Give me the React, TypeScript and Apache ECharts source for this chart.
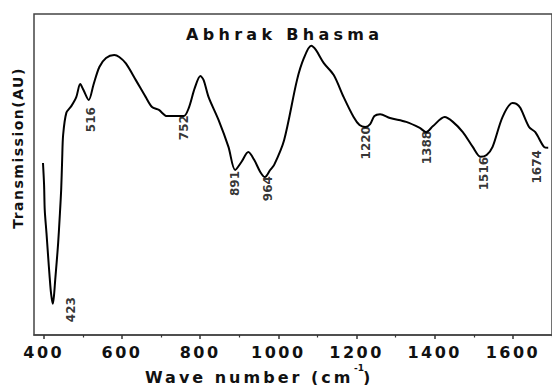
import React, { useEffect, useRef } from "react";
import * as echarts from "echarts";

const waveNumbers = [
  398, 400.8, 402.5, 406.9, 410.9, 415.2, 418.5, 423, 426, 429.2, 433, 436.8, 440.6, 444.5, 447, 449.5,
  457.7, 470.4, 483.1, 493.2, 501.6, 515.1, 527, 542.2, 559.3, 580.3, 593, 610, 635.5, 660.9,
  676.9, 694.6, 714.9, 735.3, 758.1, 770.8, 786.1, 800.6, 808.9, 821.6, 847, 872.4, 889.5,
  905.5, 923.2, 938.5, 953.7, 965.7, 979.1, 989.3, 1014.7, 1047.7, 1065.5, 1084, 1096, 1116.3,
  1141.7, 1167.1, 1192.5, 1207.7, 1222.2, 1234.9, 1245.8, 1260.3, 1285.7, 1327.1, 1361.9,
  1377.9, 1395.7, 1425.4, 1446.5, 1471.9, 1497.3, 1517.6, 1532.8, 1548, 1573.4, 1598.8, 1609,
  1619.2, 1641.3, 1657.3, 1679.4, 1690.3,
];
const transmission = [
  53.6, 46.7, 38.9, 31.8, 24.9, 17.8, 13.1, 9.7, 12.1, 17.1, 22.7, 28.7, 36.4, 45.2, 54.5, 62.3,
  69.2, 71.3, 74.1, 78.2, 76.3, 73.2, 77.9, 83.5, 86.3, 87.2, 86.6, 84.6, 79.4, 74.1,
  71.0, 70.1, 68.2, 68.2, 68.2, 70.7, 76.9, 80.7, 79.4, 74.1, 67.0, 58.6, 51.4,
  53.9, 57.0, 54.5, 50.8, 49.2, 51.4, 53.0, 60.7, 79.4, 86.3, 90.1, 88.8, 84.7,
  81.0, 74.1, 67.9, 65.4, 64.8, 65.7, 68.2, 68.8, 67.6, 66.4, 64.5,
  63.2, 65.1, 67.9, 66.4, 63.2, 58.6, 55.5, 56.1, 58.6, 67.9, 72.3, 72.0,
  70.7, 64.8, 63.2, 58.6, 58.3,
];

const peakLabels = ["423", "516", "752", "891", "964", "1220", "1388", "1516", "1674"];
const peakLabelX = [468.5, 521.8, 757.9, 889.8, 973.6, 1224.9, 1379.7, 1526.9, 1661.4];
const peakLabelY = [11.8, 71.0, 68.5, 51.1, 49.5, 65.1, 63.6, 55.5, 57.6];

const majorTicks = [400, 600, 800, 1000, 1200, 1400, 1600];
const minorTicks = [500, 700, 900, 1100, 1300, 1500, 1700];

const titleText = "Abhrak Bhasma";
const xNameMain = "Wave number (cm";
const xNameSup = "-1";
const xNameEnd = ")";
const yNameText = "Transmission(AU)";

const FONT = "'DejaVu Sans'";

export default function App() {
  const ref = useRef<HTMLDivElement>(null);

  useEffect(() => {
    const el = ref.current!;
    const chart = echarts.init(el, null, { renderer: "svg" });
    const option: any = {
      animation: false,
      backgroundColor: "#ffffff",
      grid: {
        left: 34,
        top: 14,
        width: 522,
        bottom: 50,
        show: true,
        borderColor: "#444",
        borderWidth: 1.5,
        backgroundColor: "transparent",
      },
      xAxis: [
        {
          type: "value",
          min: 375,
          max: 1700,
          position: "bottom",
          axisLine: { show: true, lineStyle: { color: "#444", width: 1.5 } },
          axisTick: { show: true, customValues: majorTicks, length: 4, lineStyle: { color: "#333", width: 1.5 } },
          axisLabel: {
            show: true,
            customValues: majorTicks,
            formatter: (v: number) => String(v),
            fontFamily: FONT,
            fontWeight: "bold",
            fontSize: 16,
            color: "#111",
            margin: 9,
          },
          splitLine: { show: false },
        },
        {
          type: "value",
          min: 375,
          max: 1700,
          position: "top",
          offset: -321,
          axisLine: { show: false },
          axisTick: { show: true, inside: true, customValues: minorTicks, length: 2.5, lineStyle: { color: "#333", width: 1.2 } },
          axisLabel: { show: false },
          splitLine: { show: false },
        },
      ],
      yAxis: {
        type: "value",
        min: 0,
        max: 100,
        axisLine: { show: false },
        axisTick: { show: false },
        axisLabel: { show: false },
        splitLine: { show: false },
      },
      series: [
        {
          type: "line",
          xAxisIndex: 0,
          data: waveNumbers.map((w, i) => [w, transmission[i]]),
          showSymbol: false,
          smooth: 0.3,
          lineStyle: { color: "#000", width: 2 },
        },
        {
          type: "scatter",
          xAxisIndex: 0,
          data: peakLabelX.map((x, i) => [x, peakLabelY[i]]),
          symbolSize: 1,
          itemStyle: { color: "transparent" },
          label: {
            show: true,
            position: "inside",
            formatter: (p: any) => peakLabels[p.dataIndex],
            rotate: 90,
            align: "right",
            verticalAlign: "middle",
            fontFamily: FONT,
            fontWeight: "bold",
            fontSize: 12,
            color: "#000",
          },
        },
      ],
      graphic: [
        {
          type: "text",
          left: 186,
          top: 26,
          style: {
            text: titleText,
            font: `bold 16px ${FONT}`,
            fill: "#111",
          },
        },
        {
          type: "text",
          x: 145,
          y: 377,
          style: {
            text: xNameMain,
            font: `bold 16px ${FONT}`,
            fill: "#111",
            textAlign: "left",
            textVerticalAlign: "middle",
          },
        },
        {
          type: "text",
          x: 354,
          y: 368,
          style: {
            text: xNameSup,
            font: `bold 9px ${FONT}`,
            fill: "#111",
            textAlign: "left",
            textVerticalAlign: "middle",
          },
        },
        {
          type: "text",
          x: 363,
          y: 377,
          style: {
            text: xNameEnd,
            font: `bold 16px ${FONT}`,
            fill: "#111",
            textAlign: "left",
            textVerticalAlign: "middle",
          },
        },
        {
          type: "text",
          x: 17.5,
          y: 148,
          rotation: Math.PI / 2,
          style: {
            text: yNameText,
            font: `bold 14px ${FONT}`,
            fill: "#111",
            textAlign: "center",
            textVerticalAlign: "middle",
          },
        },
      ],
    };
    chart.setOption(option);

    const spacing: Record<string, number> = {
      [titleText]: 4.3,
      [xNameMain]: 3,
      [yNameText]: 1.5,
    };
    majorTicks.forEach((t) => (spacing[String(t)] = 2.5));
    const apply = () => {
      el.querySelectorAll("text").forEach((t) => {
        const s = spacing[(t.textContent || "").trim()];
        if (s !== undefined) (t as any).style.letterSpacing = s + "px";
      });
    };
    apply();
    const raf = requestAnimationFrame(apply);
    const tm = setTimeout(apply, 50);

    return () => {
      cancelAnimationFrame(raf);
      clearTimeout(tm);
      chart.dispose();
    };
  }, []);

  return (
    <div
      ref={ref}
      style={{ position: "absolute", left: 0, top: 0, width: 552, height: 385, background: "#fff" }}
    />
  );
}
